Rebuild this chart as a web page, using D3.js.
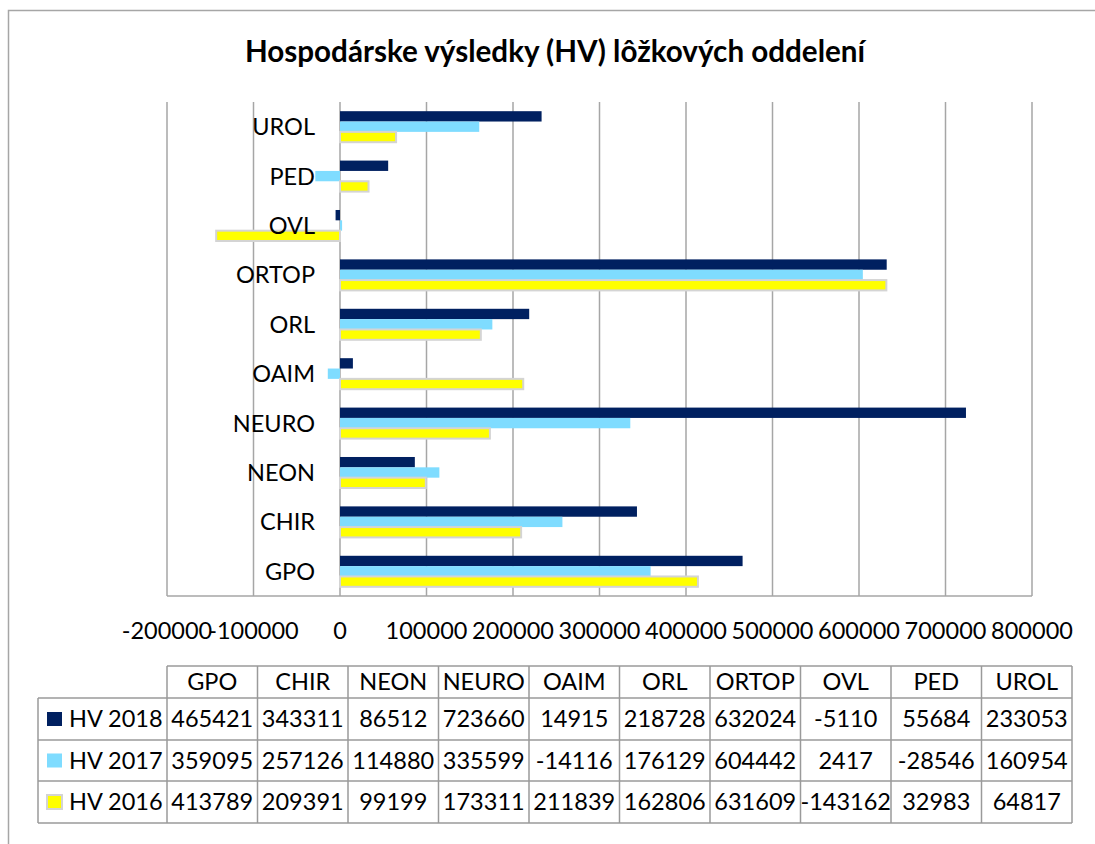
<!DOCTYPE html>
<html>
<head>
<meta charset="utf-8">
<script src="https://cdn.jsdelivr.net/npm/d3@7"></script>
<style>
  html, body { margin: 0; padding: 0; background: #fff; }
  svg { display: block; }
  text { font-family: Lato, "Open Sans", "Liberation Sans", sans-serif; fill: #000; }
</style>
</head>
<body>
<svg id="chart" width="1095" height="844"></svg>
<script>
// ---- Data ----
const categories = ["GPO", "CHIR", "NEON", "NEURO", "OAIM", "ORL", "ORTOP", "OVL", "PED", "UROL"];
const seriesNames = ["HV 2018", "HV 2017", "HV 2016"];
const hv2018 = [465421, 343311, 86512, 723660, 14915, 218728, 632024, -5110, 55684, 233053];
const hv2017 = [359095, 257126, 114880, 335599, -14116, 176129, 604442, 2417, -28546, 160954];
const hv2016 = [413789, 209391, 99199, 173311, 211839, 162806, 631609, -143162, 32983, 64817];
const xTicks = [-200000, -100000, 0, 100000, 200000, 300000, 400000, 500000, 600000, 700000, 800000];
const titleText = "Hospodárske výsledky (HV) lôžkových oddelení";

const seriesValues = [hv2018, hv2017, hv2016];
const colors = ["#002060", "#7fdcff", "#ffff00"];
const strokes = ["none", "none", "#d4d4d4"];

const svg = d3.select("#chart");
const fontSize = 23.5;

// outer chart border (clipped by viewport)
svg.append("rect")
  .attr("x", 8.5).attr("y", 10.5).attr("width", 1200).attr("height", 1000)
  .attr("fill", "none").attr("stroke", "#a6a6a6").attr("stroke-width", 1.5);

// title
svg.append("text")
  .attr("x", 555).attr("y", 62)
  .attr("text-anchor", "middle")
  .attr("font-weight", "bold")
  .attr("font-size", 29.6)
  .text(titleText);

// scales
const plotLeft = 167, plotRight = 1032, plotTop = 102, plotBottom = 596;
const x = d3.scaleLinear().domain([-200000, 800000]).range([plotLeft, plotRight]);
const y = d3.scaleBand()
  .domain(categories.slice().reverse())
  .range([plotTop, plotBottom])
  .paddingInner(0.372).paddingOuter(0.186);
const ySub = d3.scaleBand().domain(seriesNames).range([0, y.bandwidth()]);

// gridlines
svg.append("g").selectAll("line").data(xTicks).join("line")
  .attr("x1", d => x(d)).attr("x2", d => x(d))
  .attr("y1", plotTop).attr("y2", plotBottom)
  .attr("stroke", "#a6a6a6").attr("stroke-width", 1.5);
svg.append("line")
  .attr("x1", plotLeft).attr("x2", plotRight)
  .attr("y1", plotBottom).attr("y2", plotBottom)
  .attr("stroke", "#a6a6a6").attr("stroke-width", 1.5);

// bars
const rows = [];
categories.forEach((c, i) => {
  seriesNames.forEach((s, j) => rows.push({ cat: c, series: s, j: j, value: seriesValues[j][i] }));
});
svg.append("g").selectAll("rect").data(rows).join("rect")
  .attr("x", d => Math.min(x(0), x(d.value)))
  .attr("width", d => Math.abs(x(d.value) - x(0)))
  .attr("y", d => y(d.cat) + ySub(d.series))
  .attr("height", ySub.bandwidth())
  .attr("fill", d => colors[d.j])
  .attr("stroke", d => strokes[d.j])
  .attr("stroke-width", 2);

// category labels
svg.append("g").selectAll("text").data(categories).join("text")
  .attr("x", 315)
  .attr("y", d => y(d) + y.bandwidth() / 2)
  .attr("dy", "0.36em")
  .attr("text-anchor", "end")
  .attr("font-size", fontSize)
  .text(d => d);

// x tick labels
svg.append("g").selectAll("text").data(xTicks).join("text")
  .attr("x", d => x(d))
  .attr("y", 639)
  .attr("text-anchor", "middle")
  .attr("font-size", fontSize)
  .text(d => String(d));

// data table
const tLeft = 38, colStart = 167, tRight = 1072;
const headTop = 666, rowTops = [698, 740, 781], tBottom = 823;
const col = d3.scaleBand().domain(categories).range([colStart, tRight]);
const gridColor = "#9a9a9a";
const tg = svg.append("g");
// horizontal lines
tg.append("line").attr("x1", colStart).attr("x2", tRight).attr("y1", headTop).attr("y2", headTop);
[...rowTops, tBottom].forEach(yy => {
  tg.append("line").attr("x1", tLeft).attr("x2", tRight).attr("y1", yy).attr("y2", yy);
});
// vertical lines
tg.append("line").attr("x1", tLeft).attr("x2", tLeft).attr("y1", rowTops[0]).attr("y2", tBottom);
[...categories.map(c => col(c)), tRight].forEach(xx => {
  tg.append("line").attr("x1", xx).attr("x2", xx).attr("y1", headTop).attr("y2", tBottom);
});
tg.selectAll("line").attr("stroke", gridColor).attr("stroke-width", 1.5);

// header text
tg.append("g").selectAll("text").data(categories).join("text")
  .attr("x", d => col(d) + col.bandwidth() / 2)
  .attr("y", (headTop + rowTops[0]) / 2)
  .attr("dy", "0.36em")
  .attr("text-anchor", "middle")
  .attr("font-size", fontSize)
  .text(d => d);

// rows
const rowBottoms = [rowTops[1], rowTops[2], tBottom];
seriesNames.forEach((s, j) => {
  const cy = (rowTops[j] + rowBottoms[j]) / 2;
  tg.append("rect")
    .attr("x", 47).attr("y", cy - 7).attr("width", 15).attr("height", 14)
    .attr("fill", colors[j])
    .attr("stroke", strokes[j]).attr("stroke-width", 2);
  tg.append("text")
    .attr("x", 69).attr("y", cy).attr("dy", "0.36em")
    .attr("font-size", fontSize)
    .text(s);
  tg.append("g").selectAll("text").data(categories).join("text")
    .attr("x", d => col(d) + col.bandwidth() / 2)
    .attr("y", cy).attr("dy", "0.36em")
    .attr("text-anchor", "middle")
    .attr("font-size", fontSize)
    .text((d, i) => String(seriesValues[j][i]));
});
</script>
</body>
</html>
